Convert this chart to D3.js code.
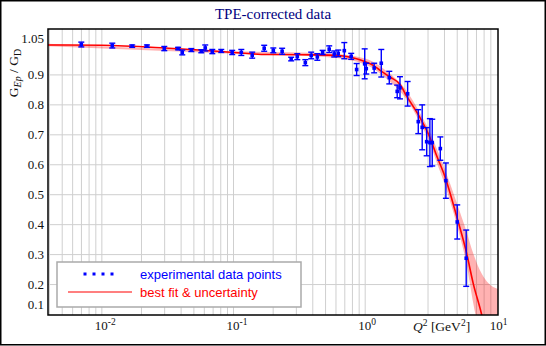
<!DOCTYPE html>
<html>
<head>
<meta charset="utf-8">
<script src="https://cdn.jsdelivr.net/npm/d3@7/dist/d3.min.js"></script>
<style>
  body { margin: 0; background: #fff; }
  svg { display: block; }
</style>
</head>
<body>
<svg id="chart" width="546" height="346"></svg>
<script>
// Measured ratio points with their errors
const q2Values = [0.00698, 0.0120, 0.0170, 0.0220, 0.0298, 0.0379, 0.0408, 0.0478, 0.0569, 0.0610,
    0.0690, 0.0807, 0.0977, 0.1146, 0.1387, 0.171, 0.2005, 0.234, 0.274, 0.305,
    0.351, 0.389, 0.433, 0.475, 0.533, 0.582, 0.624, 0.694, 0.783, 0.861,
    0.991, 1.019, 1.17, 1.325, 1.524, 1.75, 1.837, 2.10, 2.53, 2.71,
    2.93, 3.10, 3.23, 3.72, 4.10, 5.00, 5.85];
const ratioValues = [1.0015, 0.998, 0.996, 0.996, 0.988, 0.988, 0.975, 0.983, 0.979, 0.990,
    0.978, 0.980, 0.975, 0.975, 0.966, 0.989, 0.982, 0.979, 0.953, 0.961,
    0.941, 0.965, 0.960, 0.975, 0.986, 0.970, 0.972, 0.981, 0.962, 0.918,
    0.937, 0.921, 0.923, 0.939, 0.891, 0.845, 0.857, 0.837, 0.744, 0.725,
    0.677, 0.674, 0.674, 0.654, 0.547, 0.409, 0.288];
const ratioErrors = [0.008, 0.008, 0.004, 0.004, 0.007, 0.004, 0.008, 0.005, 0.005, 0.010,
    0.007, 0.005, 0.007, 0.010, 0.010, 0.010, 0.008, 0.010, 0.006, 0.010,
    0.010, 0.011, 0.011, 0.007, 0.011, 0.010, 0.011, 0.027, 0.010, 0.020,
    0.050, 0.018, 0.016, 0.046, 0.021, 0.021, 0.037, 0.041, 0.040, 0.075,
    0.047, 0.080, 0.078, 0.039, 0.059, 0.057, 0.094];

// Best fit curve
const fitQ2 = [0.0039, 0.01, 0.03, 0.055, 0.1, 0.18, 0.4, 0.63, 0.77, 0.91,
    1.15, 1.29, 1.54, 1.84, 2.06, 2.6, 3.1, 3.49, 4.03, 4.95,
    5.89, 6.61, 7.66, 8.3];
const fitValues = [1.0, 0.999, 0.99, 0.983, 0.975, 0.968, 0.967, 0.965, 0.959, 0.951,
    0.932, 0.916, 0.893, 0.868, 0.830, 0.758, 0.691, 0.630, 0.561, 0.428,
    0.305, 0.204, 0.100, 0.03];

// Uncertainty band around the fit
const bandQ2 = [0.0039, 0.1, 0.5, 1.0, 1.5, 2.0, 2.6, 3.1, 3.5, 4.0, 5.0, 5.9, 6.6, 7.7, 8.6, 10.2];
const bandLow = [0.996, 0.971, 0.960, 0.935, 0.882, 0.826, 0.742, 0.672, 0.607, 0.537, 0.395, 0.265, 0.14, 0.0, -0.1, -0.2];
const bandHigh = [1.004, 0.979, 0.972, 0.955, 0.908, 0.855, 0.774, 0.710, 0.653, 0.588, 0.468, 0.375, 0.305, 0.235, 0.205, 0.185];

// Axis ticks
const yTicks = [0.1, 0.2, 0.3, 0.4, 0.5, 0.6, 0.7, 0.8, 0.9, 1.05];
const yGridTicks = [0.2, 0.3, 0.4, 0.5, 0.6, 0.7, 0.8, 0.9];
const xDecades = [0.01, 0.1, 1, 10];
const xDecadeExponents = ["-2", "-1", "0", "1"];

const margin = { top: 29, right: 48, bottom: 31, left: 48 };
const width = 546 - margin.left - margin.right;
const height = 346 - margin.top - margin.bottom;

const svg = d3.select("#chart");

// Outer frame of the picture
svg.append("rect")
    .attr("x", 0.75)
    .attr("y", 0.75)
    .attr("width", 544.5)
    .attr("height", 344)
    .attr("fill", "#fff")
    .attr("stroke", "#000")
    .attr("stroke-width", 1.5);

const xScale = d3.scaleLog()
    .domain([0.0039, 10.2])
    .range([0, width]);

const yScale = d3.scaleLinear()
    .domain([0.1, 1.05])
    .range([height - 0.5, 1]);

const g = svg.append("g")
    .attr("transform", `translate(${margin.left}, ${margin.top})`);

g.append("clipPath")
    .attr("id", "plotClip")
    .append("rect")
    .attr("width", width)
    .attr("height", height);

// Vertical grid: every 1..9 of each decade
const xGridValues = [];
[0.001, 0.01, 0.1, 1].forEach(dec => {
    for (let k = 1; k <= 9; k++) {
        const v = k * dec;
        if (v > 0.0039 && v < 10.2) xGridValues.push(v);
    }
});

g.selectAll(".xGrid")
    .data(xGridValues)
    .join("line")
    .attr("class", "xGrid")
    .attr("x1", d => xScale(d))
    .attr("x2", d => xScale(d))
    .attr("y1", 0)
    .attr("y2", height)
    .attr("stroke", "#cfcfcf")
    .attr("stroke-width", 1);

g.selectAll(".yGrid")
    .data(yGridTicks)
    .join("line")
    .attr("class", "yGrid")
    .attr("x1", 0)
    .attr("x2", width)
    .attr("y1", d => yScale(d))
    .attr("y2", d => yScale(d))
    .attr("stroke", "#cfcfcf")
    .attr("stroke-width", 1);

// Fit uncertainty band and fit line
const bandData = bandQ2.map((q, i) => [q, bandLow[i], bandHigh[i]]);
const fitData = fitQ2.map((q, i) => [q, fitValues[i]]);

const plot = g.append("g").attr("clip-path", "url(#plotClip)");

plot.append("path")
    .datum(bandData)
    .attr("d", d3.area()
        .curve(d3.curveMonotoneX)
        .x(d => xScale(d[0]))
        .y0(d => yScale(d[1]))
        .y1(d => yScale(d[2])))
    .attr("fill", "#ff0000")
    .attr("fill-opacity", 0.3);

plot.append("path")
    .datum(fitData)
    .attr("d", d3.line()
        .curve(d3.curveMonotoneX)
        .x(d => xScale(d[0]))
        .y(d => yScale(d[1])))
    .attr("fill", "none")
    .attr("stroke", "#ff0000")
    .attr("stroke-width", 1.6);

// Error bars and markers
const points = q2Values.map((q, i) => ({ q: q, v: ratioValues[i], e: ratioErrors[i] }));

const bars = g.append("g")
    .attr("stroke", "#0000ff")
    .attr("stroke-width", 1.4);

points.forEach(p => {
    const px = xScale(p.q);
    const yTop = yScale(p.v + p.e);
    const yBot = yScale(p.v - p.e);
    bars.append("line").attr("x1", px).attr("x2", px).attr("y1", yTop).attr("y2", yBot);
    bars.append("line").attr("x1", px - 3).attr("x2", px + 3).attr("y1", yTop).attr("y2", yTop);
    bars.append("line").attr("x1", px - 3).attr("x2", px + 3).attr("y1", yBot).attr("y2", yBot);
});

g.selectAll(".dot")
    .data(points)
    .join("rect")
    .attr("class", "dot")
    .attr("x", d => xScale(d.q) - 1.8)
    .attr("y", d => yScale(d.v) - 1.8)
    .attr("width", 3.6)
    .attr("height", 3.6)
    .attr("fill", "#0000ff");

// Plot frame
g.append("rect")
    .attr("width", width)
    .attr("height", height)
    .attr("fill", "none")
    .attr("stroke", "#000")
    .attr("stroke-width", 1.5);

// Y tick labels, end labels nudged inside the frame
g.selectAll(".yLabel")
    .data(yTicks)
    .join("text")
    .attr("class", "yLabel")
    .attr("x", -4)
    .attr("y", d => {
        if (d === 1.05) return yScale(d) + 8;
        if (d === 0.1) return yScale(d) - 10;
        return yScale(d);
    })
    .attr("dy", "0.35em")
    .attr("text-anchor", "end")
    .style("font-family", "'Liberation Serif', 'Times New Roman', serif")
    .style("font-size", "13px")
    .attr("fill", "#111")
    .text(d => d === 1.05 ? "1.05" : d.toFixed(1));

// X tick labels as powers of ten
xDecades.forEach((d, i) => {
    const t = g.append("text")
        .attr("x", xScale(d) - 7)
        .attr("y", height + 15)
        .style("font-family", "'Liberation Serif', 'Times New Roman', serif")
        .style("font-size", "13px")
        .attr("fill", "#111");
    t.append("tspan").text("10");
    t.append("tspan")
        .attr("dy", -5)
        .style("font-size", "9.5px")
        .text(xDecadeExponents[i]);
});

// Axis titles
const xTitle = g.append("text")
    .attr("x", 365)
    .attr("y", height + 16)
    .style("font-family", "'Liberation Serif', 'Times New Roman', serif")
    .style("font-size", "13.5px")
    .attr("fill", "#111");
xTitle.append("tspan").style("font-style", "italic").text("Q");
xTitle.append("tspan").attr("dy", -5).style("font-size", "9.5px").text("2");
xTitle.append("tspan").attr("dy", 5).text(" [GeV");
xTitle.append("tspan").attr("dy", -5).style("font-size", "9.5px").text("2");
xTitle.append("tspan").attr("dy", 5).text("]");

const yTitle = svg.append("text")
    .attr("transform", "translate(18, 73) rotate(-90)")
    .attr("text-anchor", "middle")
    .style("font-family", "'Liberation Serif', 'Times New Roman', serif")
    .style("font-size", "13.5px")
    .attr("fill", "#111");
yTitle.append("tspan").text("G");
yTitle.append("tspan").attr("dy", 3).style("font-size", "10px").style("font-style", "italic").text("Ep");
yTitle.append("tspan").attr("dy", -3).text(" / G");
yTitle.append("tspan").attr("dy", 3).style("font-size", "10px").text("D");

svg.append("text")
    .attr("x", 273)
    .attr("y", 19)
    .attr("text-anchor", "middle")
    .style("font-family", "'Liberation Serif', 'Times New Roman', serif")
    .style("font-size", "15px")
    .attr("fill", "#000080")
    .text("TPE-corrected data");

// Legend
const legend = svg.append("g");

legend.append("rect")
    .attr("x", 57)
    .attr("y", 262)
    .attr("width", 244)
    .attr("height", 45)
    .attr("fill", "#fff")
    .attr("stroke", "#aaa")
    .attr("stroke-width", 1.5);

legend.selectAll(".legendDot")
    .data([85, 94, 103, 112])
    .join("rect")
    .attr("class", "legendDot")
    .attr("x", d => d - 1.5)
    .attr("y", 272.5)
    .attr("width", 3)
    .attr("height", 3)
    .attr("fill", "#0000ff");

legend.append("line")
    .attr("x1", 68)
    .attr("x2", 132)
    .attr("y1", 292)
    .attr("y2", 292)
    .attr("stroke", "#ff0000")
    .attr("stroke-width", 1.2);

legend.append("text")
    .attr("x", 140)
    .attr("y", 279)
    .style("font-family", "'Liberation Sans', Arial, sans-serif")
    .style("font-size", "13px")
    .attr("fill", "#0000ff")
    .text("experimental data points");

legend.append("text")
    .attr("x", 140)
    .attr("y", 297)
    .style("font-family", "'Liberation Sans', Arial, sans-serif")
    .style("font-size", "13px")
    .attr("fill", "#ff0000")
    .text("best fit & uncertainty");
</script>
</body>
</html>
